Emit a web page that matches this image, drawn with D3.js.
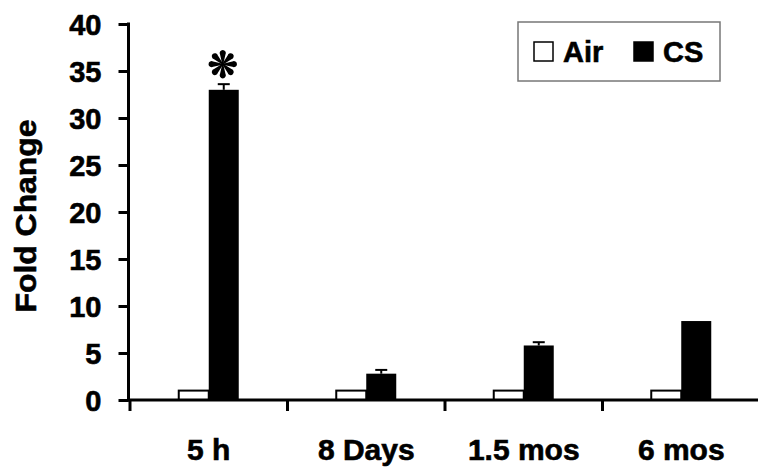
<!DOCTYPE html>
<html>
<head>
<meta charset="utf-8">
<script src="https://cdn.jsdelivr.net/npm/d3@7"></script>
<style>
  body { margin: 0; background: #fff; }
  svg text {
    font-family: "Liberation Sans", Arial, sans-serif;
    font-weight: bold;
    fill: #000;
    stroke: #000;
    stroke-width: 0.6px;
  }
</style>
</head>
<body>
<div id="chart"></div>
<script>
const timepoints = ["5 h", "8 Days", "1.5 mos", "6 mos"];
const groups = ["Air", "CS"];
const airValues = [1, 1, 1, 1];
const csValues = [33, 2.8, 5.8, 8.4];
const csErrors = [0.6, 0.4, 0.35, 0];
const yTicks = [0, 5, 10, 15, 20, 25, 30, 35, 40];
const significant = [true, false, false, false];

const width = 759;
const height = 470;

const svg = d3
  .select("#chart")
  .append("svg")
  .attr("width", width)
  .attr("height", height);

const y = d3.scaleLinear().domain([0, 40]).range([400, 24]);
const x = d3.scaleBand().domain(timepoints).range([130, 760]).padding(0);
const bw = 30;
const xs = d3
  .scaleBand()
  .domain(groups)
  .range([x.bandwidth() / 2 - bw, x.bandwidth() / 2 + bw]);

const data = timepoints.map((t, i) => ({
  t: t,
  air: airValues[i],
  cs: csValues[i],
  err: csErrors[i],
  star: significant[i],
}));

// bars
const g = svg
  .selectAll("g.group")
  .data(data)
  .join("g")
  .attr("class", "group")
  .attr("transform", (d) => `translate(${x(d.t)},0)`);

g.append("rect")
  .attr("x", xs("Air"))
  .attr("y", (d) => y(d.air))
  .attr("width", xs.bandwidth())
  .attr("height", (d) => y(0) - y(d.air))
  .attr("fill", "#fff")
  .attr("stroke", "#000")
  .attr("stroke-width", 2);

// error bars (upper only)
const csMid = xs("CS") + xs.bandwidth() / 2;
const errG = g.filter((d) => d.err > 0);
errG
  .append("line")
  .attr("x1", csMid)
  .attr("x2", csMid)
  .attr("y1", (d) => y(d.cs))
  .attr("y2", (d) => y(d.cs + d.err))
  .attr("stroke", "#000")
  .attr("stroke-width", 2);
errG
  .append("line")
  .attr("x1", csMid - 6)
  .attr("x2", csMid + 6)
  .attr("y1", (d) => y(d.cs + d.err))
  .attr("y2", (d) => y(d.cs + d.err))
  .attr("stroke", "#000")
  .attr("stroke-width", 2);

g.append("rect")
  .attr("x", xs("CS"))
  .attr("y", (d) => y(d.cs))
  .attr("width", xs.bandwidth())
  .attr("height", (d) => y(0) - y(d.cs))
  .attr("fill", "#000");

// significance mark: 8-spoke teardrop asterisk
const spoke = "M -0.5,0 L -2.7,-9.6 A 3.1 3.1 0 1 1 2.7,-9.6 L 0.5,0 Z";
const star = g
  .filter((d) => d.star)
  .append("g")
  .attr("transform", (d) => `translate(${csMid - 1},${y(d.cs + d.err) - 20})`);
star
  .selectAll("path")
  .data(d3.range(8))
  .join("path")
  .attr("d", spoke)
  .attr("transform", (k) => `rotate(${k * 45})`)
  .attr("fill", "#000");
star.append("circle").attr("r", 1.4).attr("fill", "#000");

// y axis
const yAxis = d3.axisLeft(y).tickValues(yTicks).tickSize(10).tickPadding(17);
const yg = svg.append("g").attr("transform", "translate(128.5,0)").call(yAxis);
yg.select(".domain").remove();
yg.append("line")
  .attr("x1", 0)
  .attr("x2", 0)
  .attr("y1", y(40) - 1.5)
  .attr("y2", y(0) + 1.5)
  .attr("stroke", "#000")
  .attr("stroke-width", 3);
yg.selectAll(".tick line").attr("stroke", "#000").attr("stroke-width", 3);
yg.selectAll(".tick text")
  .style("font-size", "29px")
  .style("font-family", "'Liberation Sans', Arial, sans-serif")
  .attr("dy", "0.36em");

// x axis
const xg = svg.append("g");
xg.append("line")
  .attr("x1", 127)
  .attr("x2", 758)
  .attr("y1", y(0))
  .attr("y2", y(0))
  .attr("stroke", "#000")
  .attr("stroke-width", 3);
xg.selectAll("line.tick")
  .data(timepoints)
  .join("line")
  .attr("class", "tick")
  .attr("x1", (d) => x(d))
  .attr("x2", (d) => x(d))
  .attr("y1", y(0))
  .attr("y2", y(0) + 11)
  .attr("stroke", "#000")
  .attr("stroke-width", 3);
xg.selectAll("text")
  .data(timepoints)
  .join("text")
  .attr("x", (d) => x(d) + x.bandwidth() / 2)
  .attr("y", 460)
  .attr("text-anchor", "middle")
  .style("font-size", "30px")
  .text((d) => d);

// y axis title
svg
  .append("text")
  .attr("transform", "translate(36,216) rotate(-90)")
  .attr("text-anchor", "middle")
  .style("font-size", "29px")
  .attr("textLength", 193)
  .attr("lengthAdjust", "spacingAndGlyphs")
  .text("Fold Change");

// legend
const legend = svg.append("g");
legend
  .append("rect")
  .attr("x", 518)
  .attr("y", 22)
  .attr("width", 202)
  .attr("height", 59)
  .attr("fill", "#fff")
  .attr("stroke", "#777")
  .attr("stroke-width", 1.5);
const legendItems = [
  { name: groups[0], fill: "#fff", x: 534, tx: 563 },
  { name: groups[1], fill: "#000", x: 634, tx: 663 },
];
legend
  .selectAll("rect.sw")
  .data(legendItems)
  .join("rect")
  .attr("class", "sw")
  .attr("x", (d) => d.x)
  .attr("y", 42)
  .attr("width", 19)
  .attr("height", 19)
  .attr("fill", (d) => d.fill)
  .attr("stroke", "#000")
  .attr("stroke-width", 1.5);
legend
  .selectAll("text")
  .data(legendItems)
  .join("text")
  .attr("x", (d) => d.tx)
  .attr("y", 62)
  .style("font-size", "29px")
  .text((d) => d.name);
</script>
</body>
</html>
